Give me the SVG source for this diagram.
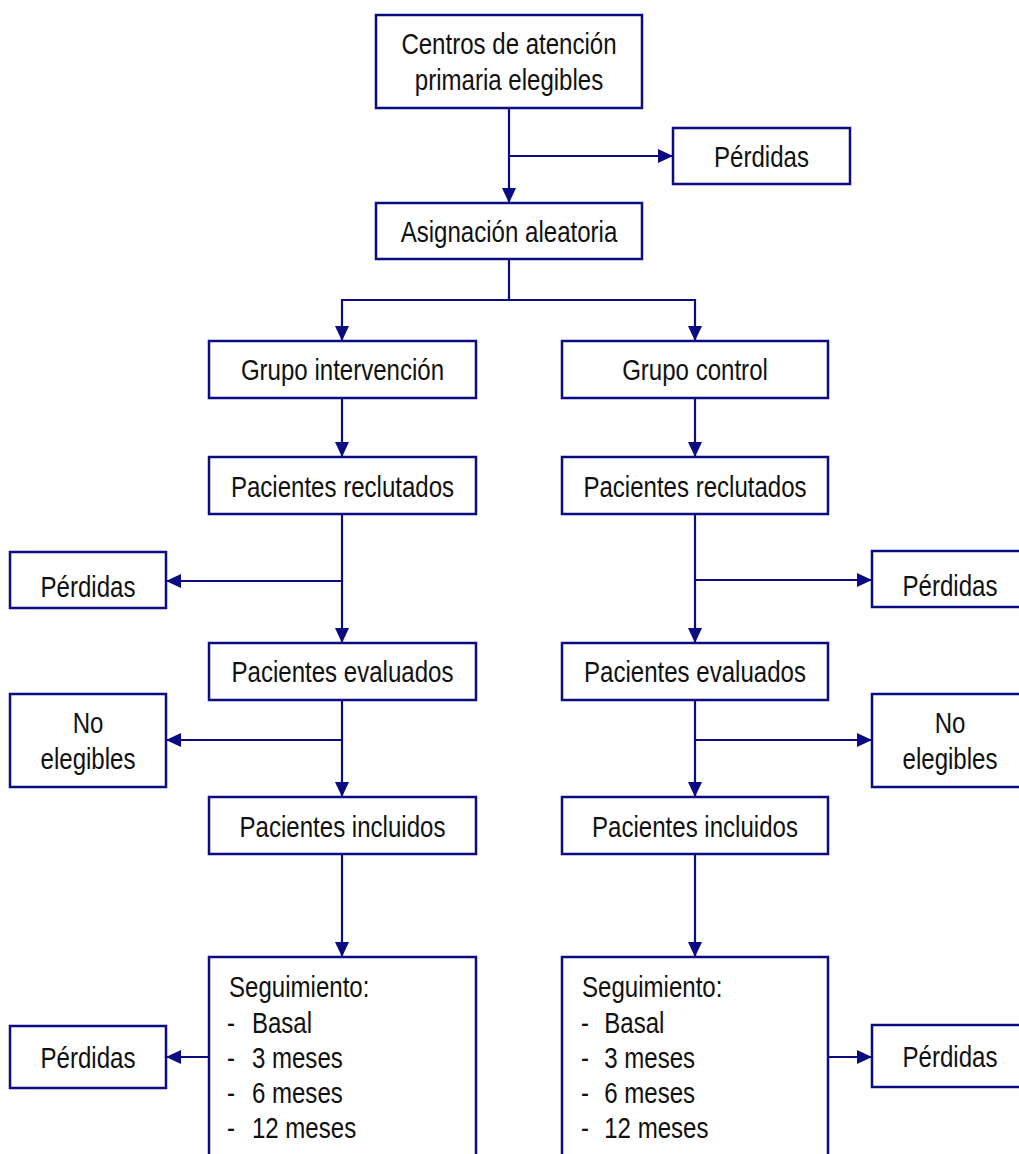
<svg xmlns="http://www.w3.org/2000/svg" width="1019" height="1154" viewBox="0 0 1019 1154">
<defs>
<style>
.box{fill:#fff;stroke:#0b0b82;stroke-width:2.5}
.ln{fill:none;stroke:#0b0b82;stroke-width:2.2}
.t{font-family:"Liberation Sans",Arial,sans-serif;font-size:29px;fill:#111}
.c{text-anchor:middle}
</style>
<marker id="ah" markerUnits="userSpaceOnUse" markerWidth="16" markerHeight="16" refX="15" refY="7" orient="auto" viewBox="0 0 16 14">
<path d="M0,0 L15,7 L0,14 Z" fill="#0b0b82"/>
</marker>
</defs>
<rect width="1019" height="1154" fill="#fff"/>
<g id="connectors">
<path class="ln" d="M509,108 V203" marker-end="url(#ah)"/>
<path class="ln" d="M509,156 H673" marker-end="url(#ah)"/>
<path class="ln" d="M509,259 V300 H342 V341" marker-end="url(#ah)"/>
<path class="ln" d="M509,300 H695 V341" marker-end="url(#ah)"/>
<path class="ln" d="M342,398 V457" marker-end="url(#ah)"/>
<path class="ln" d="M695,398 V457" marker-end="url(#ah)"/>
<path class="ln" d="M342,514 V643" marker-end="url(#ah)"/>
<path class="ln" d="M342,581 H166" marker-end="url(#ah)"/>
<path class="ln" d="M695,514 V643" marker-end="url(#ah)"/>
<path class="ln" d="M695,580 H872" marker-end="url(#ah)"/>
<path class="ln" d="M342,700 V797" marker-end="url(#ah)"/>
<path class="ln" d="M342,740 H166" marker-end="url(#ah)"/>
<path class="ln" d="M695,700 V797" marker-end="url(#ah)"/>
<path class="ln" d="M695,740 H872" marker-end="url(#ah)"/>
<path class="ln" d="M342,854 V957" marker-end="url(#ah)"/>
<path class="ln" d="M695,854 V957" marker-end="url(#ah)"/>
<path class="ln" d="M209,1057 H166" marker-end="url(#ah)"/>
<path class="ln" d="M828,1057 H872" marker-end="url(#ah)"/>
</g>
<g id="centros">
<rect class="box" x="376" y="15" width="266" height="93"/>
<text class="t c" transform="translate(509,54) scale(0.83,1)">Centros de atención</text>
<text class="t c" transform="translate(509,90) scale(0.83,1)">primaria elegibles</text>
</g>
<g id="perdidas-top">
<rect class="box" x="673" y="128" width="177" height="56"/>
<text class="t c" transform="translate(761.5,167) scale(0.83,1)">Pérdidas</text>
</g>
<g id="asignacion">
<rect class="box" x="376" y="203" width="266" height="56"/>
<text class="t c" transform="translate(509,242) scale(0.83,1)">Asignación aleatoria</text>
</g>
<g id="grupo-intervencion">
<rect class="box" x="209" y="341" width="267" height="57"/>
<text class="t c" transform="translate(342.5,380) scale(0.83,1)">Grupo intervención</text>
</g>
<g id="grupo-control">
<rect class="box" x="562" y="341" width="266" height="57"/>
<text class="t c" transform="translate(695,380) scale(0.83,1)">Grupo control</text>
</g>
<g id="reclutados-i">
<rect class="box" x="209" y="457" width="267" height="57"/>
<text class="t c" transform="translate(342.5,497) scale(0.83,1)">Pacientes reclutados</text>
</g>
<g id="reclutados-c">
<rect class="box" x="562" y="457" width="266" height="57"/>
<text class="t c" transform="translate(695,497) scale(0.83,1)">Pacientes reclutados</text>
</g>
<g id="perdidas-i1">
<rect class="box" x="10" y="552" width="156" height="56"/>
<text class="t c" transform="translate(88,597) scale(0.83,1)">Pérdidas</text>
</g>
<g id="perdidas-c1">
<rect class="box" x="872" y="551" width="156" height="56"/>
<text class="t c" transform="translate(950,596) scale(0.83,1)">Pérdidas</text>
</g>
<g id="evaluados-i">
<rect class="box" x="209" y="643" width="267" height="57"/>
<text class="t c" transform="translate(342.5,682) scale(0.83,1)">Pacientes evaluados</text>
</g>
<g id="evaluados-c">
<rect class="box" x="562" y="643" width="266" height="57"/>
<text class="t c" transform="translate(695,682) scale(0.83,1)">Pacientes evaluados</text>
</g>
<g id="noelegibles-i">
<rect class="box" x="10" y="694" width="156" height="93"/>
<text class="t c" transform="translate(88,733) scale(0.83,1)">No</text>
<text class="t c" transform="translate(88,769) scale(0.83,1)">elegibles</text>
</g>
<g id="noelegibles-c">
<rect class="box" x="872" y="694" width="156" height="93"/>
<text class="t c" transform="translate(950,733) scale(0.83,1)">No</text>
<text class="t c" transform="translate(950,769) scale(0.83,1)">elegibles</text>
</g>
<g id="incluidos-i">
<rect class="box" x="209" y="797" width="267" height="57"/>
<text class="t c" transform="translate(342.5,837) scale(0.83,1)">Pacientes incluidos</text>
</g>
<g id="incluidos-c">
<rect class="box" x="562" y="797" width="266" height="57"/>
<text class="t c" transform="translate(695,837) scale(0.83,1)">Pacientes incluidos</text>
</g>
<g id="seguimiento-i">
<rect class="box" x="209" y="957" width="267" height="220"/>
<text class="t" transform="translate(229,997) scale(0.83,1)">Seguimiento:</text>
<text class="t" transform="translate(227,1033) scale(0.83,1)">-<tspan x="30">Basal</tspan></text>
<text class="t" transform="translate(227,1068) scale(0.83,1)">-<tspan x="30">3 meses</tspan></text>
<text class="t" transform="translate(227,1103) scale(0.83,1)">-<tspan x="30">6 meses</tspan></text>
<text class="t" transform="translate(227,1138) scale(0.83,1)">-<tspan x="30">12 meses</tspan></text>
</g>
<g id="seguimiento-c">
<rect class="box" x="562" y="957" width="266" height="220"/>
<text class="t" transform="translate(582,997) scale(0.83,1)">Seguimiento:</text>
<text class="t" transform="translate(581,1033) scale(0.83,1)">-<tspan x="28">Basal</tspan></text>
<text class="t" transform="translate(581,1068) scale(0.83,1)">-<tspan x="28">3 meses</tspan></text>
<text class="t" transform="translate(581,1103) scale(0.83,1)">-<tspan x="28">6 meses</tspan></text>
<text class="t" transform="translate(581,1138) scale(0.83,1)">-<tspan x="28">12 meses</tspan></text>
</g>
<g id="perdidas-i2">
<rect class="box" x="10" y="1026" width="156" height="62"/>
<text class="t c" transform="translate(88,1068) scale(0.83,1)">Pérdidas</text>
</g>
<g id="perdidas-c2">
<rect class="box" x="872" y="1025" width="156" height="62"/>
<text class="t c" transform="translate(950,1067) scale(0.83,1)">Pérdidas</text>
</g>
</svg>
